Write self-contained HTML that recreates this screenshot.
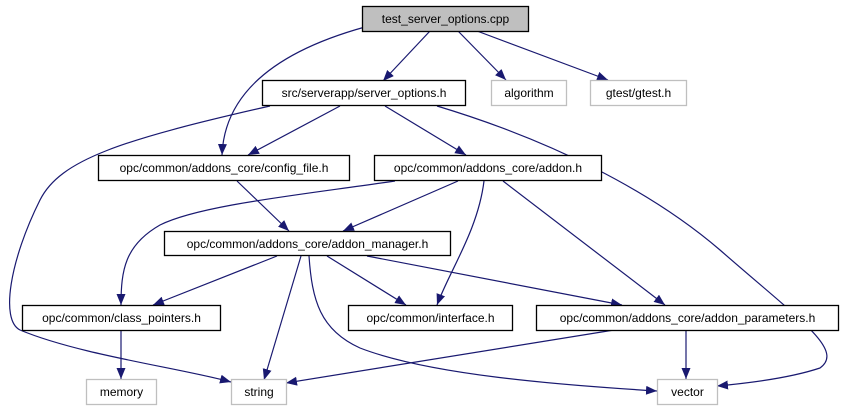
<!DOCTYPE html>
<html><head><meta charset="utf-8"><style>
html,body{margin:0;padding:0;background:#fff;}
svg{display:block;}
text{font-family:"Liberation Sans",Helvetica,sans-serif;font-size:12px;fill:#000;}
</style></head><body>
<svg width="851" height="411" viewBox="0 0 851 411" xmlns="http://www.w3.org/2000/svg">
<defs>
<marker id="a" markerUnits="userSpaceOnUse" markerWidth="12" markerHeight="10" refX="11" refY="4.5" orient="auto">
<path d="M0,0 L11,4.5 L0,9 Z" fill="#191970"/>
</marker>
</defs>
<g fill="none" stroke="#191970" stroke-width="1.2" marker-end="url(#a)">
<path d="M430,31 L383,81"/>
<path d="M458,31 L506,80"/>
<path d="M477,31 L608,80"/>
<path d="M365,27 C300,45 225,80 222,155"/>
<path d="M340,106 L248,155"/>
<path d="M385,106 L466,155"/>
<path d="M270,106 C120,140 60,160 40,200 C10,260 0,320 20,330 C80,355 180,368 231,382"/>
<path d="M437,106 C550,140 650,190 720,250 C800,320 845,350 820,368 C790,378 750,383 717,386"/>
<path d="M237,181 L289,231"/>
<path d="M458,181 L343,231"/>
<path d="M395,181 C300,195 200,205 160,225 C125,245 121,270 121,305"/>
<path d="M484,181 C478,230 450,270 437,305"/>
<path d="M503,181 L665,305"/>
<path d="M277,256 L153,305"/>
<path d="M301,256 L264,380"/>
<path d="M309,256 C312,300 320,330 360,348 C430,375 560,385 657,391"/>
<path d="M327,256 L406,305"/>
<path d="M367,256 L622,305"/>
<path d="M121,330 L121,379"/>
<path d="M614,330 L286,383"/>
<path d="M686,330 L686,379"/>
</g>
<g stroke-width="1.3">
<rect x="362.5" y="6.5" width="166" height="25" fill="#bfbfbf" stroke="#000"/>
<rect x="262.5" y="80.5" width="203" height="25" fill="#fff" stroke="#000"/>
<rect x="491.5" y="80.5" width="75" height="25" fill="#fff" stroke="#bfbfbf"/>
<rect x="590.5" y="80.5" width="96" height="25" fill="#fff" stroke="#bfbfbf"/>
<rect x="98.5" y="155.5" width="251" height="25" fill="#fff" stroke="#000"/>
<rect x="374.5" y="155.5" width="227" height="25" fill="#fff" stroke="#000"/>
<rect x="164.5" y="231.5" width="286" height="24" fill="#fff" stroke="#000"/>
<rect x="22.5" y="305.5" width="198" height="25" fill="#fff" stroke="#000"/>
<rect x="348.5" y="305.5" width="164" height="25" fill="#fff" stroke="#000"/>
<rect x="536.5" y="305.5" width="302" height="25" fill="#fff" stroke="#000"/>
<rect x="86.5" y="379.5" width="70" height="25" fill="#fff" stroke="#bfbfbf"/>
<rect x="231.5" y="379.5" width="55" height="25" fill="#fff" stroke="#bfbfbf"/>
<rect x="657.5" y="379.5" width="60" height="25" fill="#fff" stroke="#bfbfbf"/>
</g>
<g text-anchor="middle">
<text x="445.5" y="23">test_server_options.cpp</text>
<text x="364" y="97">src/serverapp/server_options.h</text>
<text x="529" y="97">algorithm</text>
<text x="638.5" y="97">gtest/gtest.h</text>
<text x="224" y="172">opc/common/addons_core/config_file.h</text>
<text x="488" y="172">opc/common/addons_core/addon.h</text>
<text x="307.5" y="248">opc/common/addons_core/addon_manager.h</text>
<text x="121.5" y="322">opc/common/class_pointers.h</text>
<text x="430.5" y="322">opc/common/interface.h</text>
<text x="687.5" y="322">opc/common/addons_core/addon_parameters.h</text>
<text x="121.5" y="396">memory</text>
<text x="259" y="396">string</text>
<text x="687.5" y="396">vector</text>
</g>
</svg>
</body></html>
